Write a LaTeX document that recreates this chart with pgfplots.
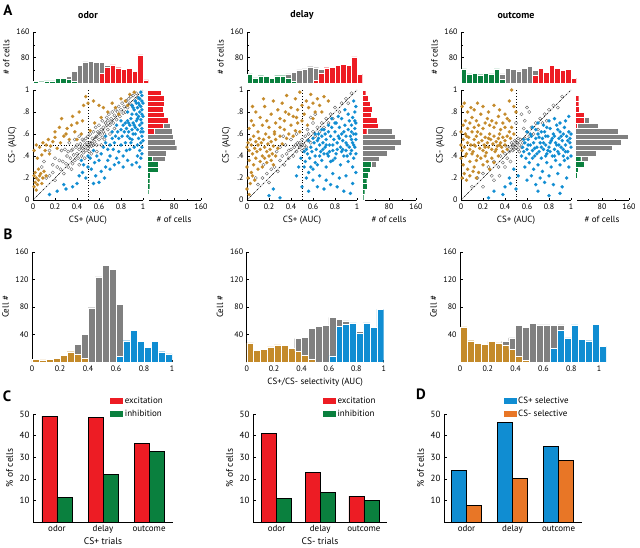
\documentclass[border=0pt]{standalone}
\usepackage{fontspec}
\setmainfont{PT Sans}
\usepackage{pgfplots}
\usepackage{pgfplotstable}
\pgfplotsset{compat=1.18}
\definecolor{cred}{RGB}{237,28,36}
\definecolor{cgreen}{RGB}{10,128,62}
\definecolor{cblue}{RGB}{16,141,210}
\definecolor{cbrown}{RGB}{196,138,42}
\definecolor{corange}{RGB}{232,118,38}
\definecolor{cgrey}{RGB}{128,128,128}

% ---------- panel A marginal histograms ----------
\pgfplotstableread{
x g r k
2.5 5 0 0
7.5 4 0 0
12.5 7 0 0
17.5 7 0 0
22.5 14 0 0
27.5 14 0 0
32.5 12 0 8
37.5 6 0 30
42.5 0 0 55
47.5 0 0 66
52.5 0 0 67
57.5 0 0 64
62.5 0 30 34
67.5 0 50 5
72.5 0 57 0
77.5 0 48 0
82.5 0 42 0
87.5 0 47 0
92.5 0 36 0
97.5 0 88 0
102.5 0 10 0
}\odortop
\pgfplotstableread{
x g r k
2.5 29 0 0
7.5 16 0 0
12.5 23 0 0
17.5 21 0 0
22.5 14 0 0
27.5 23 0 0
32.5 23 0 0
37.5 16 0 13
42.5 5 0 28
47.5 0 0 41
52.5 0 0 44
57.5 0 0 51
62.5 0 8 40
67.5 0 32 10
72.5 0 48 0
77.5 0 50 0
82.5 0 56 0
87.5 0 58 0
92.5 0 56 0
97.5 0 82 0
102.5 0 28 0
}\delaytop
\pgfplotstableread{
x g r k
2.5 44 0 0
7.5 29 0 0
12.5 31 0 0
17.5 26 0 0
22.5 31 0 0
27.5 29 0 0
32.5 44 0 0
37.5 12 0 17
42.5 0 0 46
47.5 0 0 43
52.5 0 0 38
57.5 0 0 46
62.5 0 0 53
67.5 0 25 14
72.5 0 46 0
77.5 0 33 0
82.5 0 56 0
87.5 0 46 0
92.5 0 39 0
97.5 0 43 0
102.5 0 15 0
}\outcometop
\pgfplotstableread{
y g r k
2.5 3 0 0
7.5 5 0 0
12.5 8 0 0
17.5 8 0 0
22.5 10 0 0
27.5 33 0 0
32.5 32 0 0
37.5 15 0 40
42.5 0 0 58
47.5 0 0 88
52.5 0 0 83
57.5 0 0 78
62.5 0 20 55
67.5 0 48 22
72.5 0 62 3
77.5 0 50 0
82.5 0 47 0
87.5 0 50 0
92.5 0 50 0
97.5 0 42 0
}\odorright
\pgfplotstableread{
y g r k
2.5 5 0 0
7.5 8 0 0
12.5 16 0 0
17.5 14 0 0
22.5 19 0 0
27.5 23 0 0
32.5 28 0 14
37.5 0 0 52
42.5 0 0 75
47.5 0 0 99
52.5 0 0 115
57.5 0 0 99
62.5 0 14 76
67.5 0 47 5
72.5 0 45 0
77.5 0 28 0
82.5 0 30 0
87.5 0 25 0
92.5 0 19 0
97.5 0 11 0
}\delayright
\pgfplotstableread{
y g r k
2.5 2 0 0
7.5 2 0 0
12.5 4 0 0
17.5 4 0 0
22.5 7 0 0
27.5 10 0 0
32.5 26 0 0
37.5 17 0 21
42.5 0 0 62
47.5 0 0 110
52.5 0 0 138
57.5 0 0 158
62.5 0 0 127
67.5 0 7 62
72.5 0 26 16
77.5 0 26 0
82.5 0 13 0
87.5 0 11 0
92.5 0 11 0
97.5 0 2 0
}\outcomeright
% ---------- panel B histograms ----------
\pgfplotstableread{
x n b k
0.025 4 0 0
0.075 3 0 0
0.125 4 0 0
0.175 5 0 0
0.225 10 0 0
0.275 15 0 0
0.325 12 0 14
0.375 5 0 35
0.425 0 0 79
0.475 0 0 124
0.525 0 0 141
0.575 0 0 135
0.625 0 8 76
0.675 0 31 0
0.725 0 46 0
0.775 0 30 0
0.825 0 21 0
0.875 0 30 0
0.925 0 15 0
0.975 0 12 0
}\bone
\pgfplotstableread{
x n b k
0.025 28 0 0
0.075 17 0 0
0.125 18 0 0
0.175 22 0 0
0.225 25 0 0
0.275 24 0 0
0.325 20 0 0
0.375 16 0 18
0.425 10 0 26
0.475 4 0 45
0.525 0 0 52
0.575 0 0 53
0.625 0 9 56
0.675 0 52 10
0.725 0 55 5
0.775 0 57 0
0.825 0 42 3
0.875 0 57 0
0.925 0 50 0
0.975 0 77 0
}\btwo
\pgfplotstableread{
x n b k
0.025 51 0 0
0.075 31 0 0
0.125 27 0 0
0.175 26 0 0
0.225 30 0 0
0.275 28 0 0
0.325 25 0 5
0.375 18 0 17
0.425 9 0 44
0.475 2 0 48
0.525 0 0 56
0.575 0 0 54
0.625 0 0 54
0.675 0 20 33
0.725 0 46 8
0.775 0 35 0
0.825 0 54 0
0.875 0 33 0
0.925 0 31 0
0.975 0 55 0
1.025 0 23 0
}\bthree

\tikzset{
  refl/.style={dotted, line width=0.8pt},
  diagl/.style={line width=0.5pt, dash pattern=on 2pt off 1pt on 0.5pt off 1pt},
}
\pgfplotsset{
  base/.style={
    scale only axis, anchor=south west,
    axis lines*=left,
    axis line style={line width=0.6pt,-},
    every tick/.style={black,line width=0.5pt},
    tick align=inside,
    major tick length=2.5bp, minor tick length=1.5bp,
    tick label style={font=\fontsize{8}{9}\selectfont},
    label style={font=\fontsize{9}{10}\selectfont},
    /pgf/number format/assume math mode=true,
  },
  tophist/.style={base, ybar stacked, bar width=5,
    xmin=0, xmax=105, ymin=0, ymax=160, width=115.5bp, height=51bp,
    xtick=\empty, x axis line style={draw=none},
    ytick={80,160}, minor ytick={40,120}, ylabel={\# of cells}},
  righthist/.style={base, xbar stacked, bar width=5,
    xmin=0, xmax=160, ymin=0, ymax=100, width=54bp, height=110bp,
    ytick=\empty, xtick={80,160}, minor xtick={40,120}, xlabel={\# of cells}},
  scat/.style={base, xmin=0, xmax=100, ymin=0, ymax=100, width=110bp, height=110bp,
    xtick={0,20,...,100}, xticklabels={0,0.2,0.4,0.6,0.8,1},
    ytick={0,20,...,100}, yticklabels={0,.2,.4,.6,.8,1},
    xlabel={CS+ (AUC)}, ylabel={CS- (AUC)}, clip=false},
  bhist/.style={base, ybar stacked, bar width=0.05, ymin=0, ymax=160, height=110bp,
    ytick={40,80,120,160}, xtick={0,0.2,0.4,0.6,0.8,1},
    xticklabels={0,0.2,0.4,0.6,0.8,1}, ylabel={Cell \#}},
  cbar/.style={base, ymin=0, ymax=50, height=108bp,
    ytick={10,20,30,40,50}, xtick={0,1,2}, xticklabels={odor,delay,outcome},
    x tick style={draw=none},
    tick label style={font=\fontsize{9}{10}\selectfont},
    label style={font=\fontsize{9.5}{11}\selectfont},
    xlabel style={yshift=3bp},
    ylabel={\% of cells},
    legend style={draw=none, fill=none, inner sep=0pt, row sep=1.5bp,
      font=\fontsize{9}{10}\selectfont, cells={anchor=west}}},
  gbar/.style={fill=cgrey, draw=white, line width=0.3pt},
  brownpt/.style={only marks, mark=*, mark size=1.7pt, mark options={fill=cbrown, draw=cbrown, line width=0.1pt}},
  bluept/.style={only marks, mark=*, mark size=1.7pt, mark options={fill=cblue, draw=cblue, line width=0.1pt}},
  greypt/.style={only marks, mark=o, mark size=1.6pt, mark options={draw=black!60, line width=0.4pt}},
}

\begin{document}
\begin{tikzpicture}
\path[use as bounding box] (0,0) rectangle (640bp,-548bp);

% ================= A: odor =================
\begin{axis}[tophist, at={(33bp,-83bp)}]
\addplot[fill=cgreen, draw=white, line width=0.3pt] table[x=x,y=g]{\odortop};
\addplot[fill=cred, draw=white, line width=0.3pt] table[x=x,y=r]{\odortop};
\addplot[gbar] table[x=x,y=k]{\odortop};
\end{axis}
\begin{axis}[righthist, at={(147bp,-200bp)}]
\addplot[fill=cgreen, draw=white, line width=0.3pt] table[x=g,y=y]{\odorright};
\addplot[fill=cred, draw=white, line width=0.3pt] table[x=r,y=y]{\odorright};
\addplot[gbar] table[x=k,y=y]{\odorright};
\end{axis}
\begin{axis}[scat, at={(33bp,-200bp)}]
\addplot[greypt] coordinates {(15,22) (18,25) (20,18) (22,30) (25,28) (27,35) (28,24) (30,33) (31,40) (32,30) (34,38) (35,45) (36,33) (37,41) (38,36) (39,48) (40,42) (41,38) (42,46) (43,51) (44,40) (45,47) (45,55) (46,43) (47,50) (48,45) (48,56) (49,52) (50,47) (50,58) (51,44) (52,52) (52,60) (53,49) (54,56) (55,62) (55,50) (56,53) (57,66) (58,58) (58,50) (59,62) (60,55) (60,68) (61,60) (62,64) (63,57) (63,72) (64,66) (65,60) (66,70) (67,75) (68,64) (68,72) (69,78) (70,68) (71,74) (72,80) (73,70) (74,77) (75,82) (76,73) (77,80) (78,85) (79,76) (80,82) (81,88) (82,79) (83,85) (84,80) (85,90) (86,84) (87,92) (88,88) (89,94) (90,86) (91,95) (93,90) (94,97) (95,93) (20,38) (26,45) (33,52) (38,55) (42,58) (29,46) (24,36) (18,32) (12,20) (35,28) (42,32) (47,38) (53,42) (58,44) (62,50) (65,55) (70,60) (74,65) (10,35) (15,45) (8,30) (44,48) (46,54) (51,49) (54,51) (57,57) (60,61) (64,62) (67,68) (71,71) (36,46) (40,50) (32,44)};
\addplot[brownpt] coordinates {(1,12) (2,16) (3,20) (1,22) (4,14) (5,18) (2,25) (6,22) (3,9) (8,15) (7,24) (9,20) (5,28) (10,26) (12,22) (1,45) (3,50) (6,48) (9,52) (12,50) (14,55) (16,49) (18,53) (20,57) (8,41) (11,45) (4,38) (15,42) (22,47) (25,52) (28,58) (20,62) (24,66) (26,74) (31,65) (35,68) (30,60) (33,55) (38,62) (40,70) (36,76) (42,80) (45,72) (48,94) (50,88) (46,86) (55,90) (60,86) (64,84) (68,80) (62,75) (72,88) (75,84) (80,92) (84,90) (88,96) (92,98) (86,86) (78,78) (52,63) (56,70) (40,55) (44,60)};
\addplot[bluept] coordinates {(98,98) (99,95) (97,92) (99,90) (96,88) (98,85) (99,82) (95,84) (97,80) (99,78) (96,76) (98,73) (99,70) (94,72) (97,68) (99,65) (95,64) (98,62) (99,58) (96,56) (98,52) (99,48) (97,45) (95,50) (93,60) (92,68) (94,78) (92,82) (90,78) (91,70) (89,74) (90,64) (88,68) (87,62) (86,72) (85,65) (84,70) (88,56) (86,58) (83,62) (82,68) (80,64) (81,58) (84,52) (90,55) (92,48) (95,40) (98,38) (99,42) (88,46) (85,45) (80,50) (78,56) (77,62) (75,58) (74,52) (72,56) (70,50) (73,46) (78,44) (82,40) (86,36) (90,32) (94,34) (97,30) (76,38) (70,40) (68,46) (66,52) (64,48) (62,42) (60,36) (58,40) (56,34) (55,45) (52,38) (50,30) (53,28) (57,22) (62,26) (66,30) (70,28) (74,32) (65,20) (60,16) (55,15) (48,20) (45,25) (42,22) (40,15) (36,12) (30,10) (28,14) (22,8) (15,5) (46,32) (50,40) (44,36) (78,34) (82,30) (68,36) (72,62) (80,72) (86,80) (90,86) (93,90) (96,93) (76,68) (66,58) (100,88) (100,76) (100,62) (100,54) (97,86) (95,74) (93,66) (91,60) (89,52) (87,70) (94,88) (91,84)};
\draw[refl] (axis cs:50,0) -- (axis cs:50,100);
\draw[refl] (axis cs:0,50) -- (axis cs:100,50);
\draw[diagl] (axis cs:0,0) -- (axis cs:100,100);
\end{axis}

% ================= A: delay =================
\begin{axis}[tophist, at={(247bp,-83bp)}]
\addplot[fill=cgreen, draw=white, line width=0.3pt] table[x=x,y=g]{\delaytop};
\addplot[fill=cred, draw=white, line width=0.3pt] table[x=x,y=r]{\delaytop};
\addplot[gbar] table[x=x,y=k]{\delaytop};
\end{axis}
\begin{axis}[righthist, at={(362bp,-200bp)}]
\addplot[fill=cgreen, draw=white, line width=0.3pt] table[x=g,y=y]{\delayright};
\addplot[fill=cred, draw=white, line width=0.3pt] table[x=r,y=y]{\delayright};
\addplot[gbar] table[x=k,y=y]{\delayright};
\end{axis}
\begin{axis}[scat, at={(247bp,-200bp)}]
\addplot[greypt] coordinates {(10,14) (14,20) (18,24) (20,16) (22,28) (25,30) (28,26) (30,36) (32,40) (34,32) (36,42) (38,38) (40,46) (42,40) (44,50) (45,44) (46,52) (48,48) (50,55) (50,45) (52,50) (53,58) (54,48) (55,54) (56,60) (58,52) (60,62) (62,58) (64,66) (66,62) (68,70) (70,66) (72,74) (74,70) (76,78) (78,74) (80,84) (84,80) (86,88) (90,92) (92,88) (95,97) (40,55) (35,50) (30,48) (45,60) (55,64) (60,70) (48,52) (52,46) (47,50) (50,50) (43,48) (38,45) (27,44) (33,58) (58,75) (62,78) (8,20) (15,32)};
\addplot[brownpt] coordinates {(0,48) (1,52) (2,45) (3,55) (4,50) (5,42) (6,58) (7,47) (8,53) (9,44) (10,50) (11,56) (12,46) (13,52) (14,40) (15,55) (16,48) (17,60) (18,44) (19,51) (20,57) (21,46) (22,53) (23,42) (24,49) (25,62) (26,55) (28,47) (30,58) (32,51) (34,64) (36,56) (38,60) (40,68) (42,58) (44,63) (46,70) (48,62) (0,30) (2,36) (4,25) (6,32) (8,38) (10,28) (12,35) (14,30) (16,38) (18,34) (20,40) (1,20) (3,15) (5,22) (0,10) (2,5) (7,18) (22,36) (24,32) (26,40) (2,65) (4,72) (6,68) (8,80) (10,62) (12,75) (14,68) (16,85) (18,72) (20,66) (22,78) (24,90) (26,70) (28,82) (30,74) (32,88) (34,72) (36,95) (38,78) (40,84) (42,76) (44,92) (46,82) (48,98) (50,86) (52,78) (54,90) (56,84) (58,96) (60,88) (62,80) (64,92) (30,66) (35,80) (45,75) (15,92) (5,85) (25,60) (50,72) (55,68) (60,74) (66,86) (70,94) (74,90) (68,80)};
\addplot[bluept] coordinates {(98,80) (99,85) (97,90) (96,75) (99,70) (98,65) (95,68) (97,60) (99,55) (96,52) (98,48) (99,42) (95,45) (97,38) (94,58) (93,72) (92,64) (91,50) (90,58) (89,68) (88,62) (87,54) (86,74) (85,48) (84,66) (83,58) (82,52) (81,70) (80,62) (79,55) (78,45) (77,66) (76,58) (75,50) (74,62) (73,42) (72,55) (71,48) (70,64) (69,52) (68,58) (67,44) (66,50) (65,60) (64,54) (63,46) (62,40) (61,52) (60,56) (59,44) (58,48) (57,38) (56,54) (55,42) (54,46) (53,35) (52,44) (88,40) (92,35) (96,30) (99,25) (85,32) (80,38) (76,35) (72,30) (68,36) (64,32) (60,28) (56,25) (52,30) (90,45) (94,42) (86,44) (82,46) (78,36) (74,40) (70,42) (66,40) (62,34) (58,30) (54,20) (60,18) (66,22) (72,18) (78,24) (84,20) (90,22) (96,15) (50,12) (56,8) (64,12) (70,10) (76,14) (82,12) (88,8) (94,6) (49,38) (47,30) (45,22) (30,2) (24,10) (20,4) (98,72) (95,62) (92,78) (89,82) (86,60) (83,76) (80,70) (77,74) (74,68) (71,60) (68,64) (65,56) (62,60) (99,60) (97,50) (93,48) (90,52) (87,46) (84,56) (81,42) (78,50) (75,44) (72,50) (69,46) (91,40) (95,55)};
\draw[refl] (axis cs:50,0) -- (axis cs:50,100);
\draw[refl] (axis cs:0,50) -- (axis cs:50,50);
\draw[diagl] (axis cs:0,0) -- (axis cs:100,100);
\end{axis}

% ================= A: outcome =================
\begin{axis}[tophist, at={(461bp,-83bp)}]
\addplot[fill=cgreen, draw=white, line width=0.3pt] table[x=x,y=g]{\outcometop};
\addplot[fill=cred, draw=white, line width=0.3pt] table[x=x,y=r]{\outcometop};
\addplot[gbar] table[x=x,y=k]{\outcometop};
\end{axis}
\begin{axis}[righthist, at={(575bp,-200bp)}]
\addplot[fill=cgreen, draw=white, line width=0.3pt] table[x=g,y=y]{\outcomeright};
\addplot[fill=cred, draw=white, line width=0.3pt] table[x=r,y=y]{\outcomeright};
\addplot[gbar] table[x=k,y=y]{\outcomeright};
\end{axis}
\begin{axis}[scat, at={(461bp,-200bp)}]
\addplot[greypt] coordinates {(45,48) (46,52) (47,45) (48,50) (49,54) (50,48) (51,52) (52,46) (53,50) (54,55) (55,48) (48,46) (50,53) (52,56) (47,50) (53,44) (56,52) (44,44) (42,48) (58,56) (10,12) (15,20) (20,24) (25,30) (28,22) (30,35) (34,30) (36,40) (38,34) (40,42) (42,38) (60,62) (62,58) (64,66) (66,60) (68,70) (70,64) (72,74) (74,70) (76,78) (78,72) (80,82) (84,86) (88,84) (92,94) (58,72) (62,80) (55,78) (60,84) (50,70) (57,65) (40,30) (45,35) (35,22) (30,18) (20,12)};
\addplot[brownpt] coordinates {(0,50) (1,45) (2,55) (3,48) (4,60) (5,42) (6,52) (7,57) (8,46) (9,50) (10,62) (11,44) (12,55) (13,49) (14,58) (15,40) (16,52) (17,47) (18,60) (19,54) (20,45) (21,50) (22,57) (23,43) (24,52) (25,48) (26,60) (27,55) (28,46) (29,51) (30,58) (31,44) (32,53) (33,49) (34,56) (35,60) (36,52) (37,48) (38,57) (40,54) (42,58) (44,62) (0,62) (2,68) (4,72) (6,65) (8,70) (10,75) (12,66) (14,72) (16,68) (18,78) (20,65) (22,70) (24,74) (26,68) (28,72) (30,66) (32,70) (34,76) (36,64) (38,70) (40,66) (42,74) (1,85) (3,88) (6,80) (9,84) (12,82) (15,88) (20,85) (25,80) (30,86) (35,82) (40,78) (44,90) (46,100) (48,85) (50,80) (0,38) (2,32) (4,40) (6,28) (8,35) (10,42) (12,30) (14,36) (16,25) (18,38) (20,32) (22,40) (24,35) (26,28) (28,38) (30,34) (1,20) (3,24) (5,18) (8,22) (11,26) (14,20) (34,40) (38,44) (42,46) (5,58) (15,62) (25,56) (35,50) (45,56) (46,66) (48,60) (44,72) (12,50) (22,48) (32,46) (40,50)};
\addplot[bluept] coordinates {(55,40) (56,48) (57,44) (58,52) (59,38) (60,46) (61,55) (62,42) (63,50) (64,58) (65,45) (66,52) (67,40) (68,56) (69,48) (70,60) (71,44) (72,52) (73,38) (74,56) (75,46) (76,62) (77,50) (78,42) (79,58) (80,48) (81,65) (82,54) (83,40) (84,60) (85,46) (86,52) (87,68) (88,44) (89,56) (90,62) (91,48) (92,54) (93,40) (94,66) (95,50) (96,58) (97,44) (98,62) (99,52) (100,48) (60,62) (65,66) (70,70) (75,68) (80,72) (85,74) (90,70) (95,72) (98,76) (88,64) (78,66) (68,64) (58,30) (62,34) (66,28) (70,32) (74,26) (78,34) (82,30) (86,36) (90,32) (94,36) (98,30) (64,22) (72,20) (80,22) (88,24) (96,20) (60,18) (68,14) (76,16) (84,14) (92,12) (70,8) (80,4) (90,6) (57,55) (63,60) (67,47) (71,57) (75,52) (79,45) (83,56) (87,50) (91,58) (95,44) (99,56) (73,48) (77,58) (81,44) (85,58) (89,42) (93,60) (97,54) (61,50) (65,38) (69,42) (73,62) (77,40) (81,52) (85,40) (89,50) (93,46) (97,38) (100,60) (100,40) (50,10) (45,15) (40,12) (52,22) (48,28) (44,20) (38,5) (30,8) (25,2)};
\draw[refl] (axis cs:50,0) -- (axis cs:50,100);
\draw[refl] (axis cs:0,50) -- (axis cs:50,50);
\draw[diagl] (axis cs:0,0) -- (axis cs:100,100);
\end{axis}

% ================= B =================
\begin{axis}[bhist, at={(32bp,-362bp)}, width=140bp, xmin=0, xmax=1]
\addplot[fill=cbrown, draw=white, line width=0.3pt] table[x=x,y=n]{\bone};
\addplot[fill=cblue, draw=white, line width=0.3pt] table[x=x,y=b]{\bone};
\addplot[gbar] table[x=x,y=k]{\bone};
\end{axis}
\begin{axis}[bhist, at={(246.7bp,-362bp)}, width=137bp, xmin=0, xmax=1, xlabel={CS+/CS- selectivity (AUC)}]
\addplot[fill=cbrown, draw=white, line width=0.3pt] table[x=x,y=n]{\btwo};
\addplot[fill=cblue, draw=white, line width=0.3pt] table[x=x,y=b]{\btwo};
\addplot[gbar] table[x=x,y=k]{\btwo};
\end{axis}
\begin{axis}[bhist, at={(460bp,-362bp)}, width=146bp, xmin=0, xmax=1.05]
\addplot[fill=cbrown, draw=white, line width=0.3pt] table[x=x,y=n]{\bthree};
\addplot[fill=cblue, draw=white, line width=0.3pt] table[x=x,y=b]{\bthree};
\addplot[gbar] table[x=x,y=k]{\bthree};
\end{axis}

% ================= C =================
\begin{axis}[cbar, at={(33bp,-522bp)}, width=140bp, xmin=-0.52, xmax=2.52, xlabel={CS+ trials},
  legend style={at={(0.55,1.18)}, anchor=north west}]
\addplot[ybar, bar width=15bp, bar shift=-7.5bp, fill=cred, draw=black, line width=0.7pt,
  legend image code/.code={\fill[cred] (0bp,-2.6bp) rectangle (12bp,2.6bp);}] coordinates {(0,49) (1,48.5) (2,36.5)};
\addlegendentry{excitation}
\addplot[ybar, bar width=15bp, bar shift=7.5bp, fill=cgreen, draw=black, line width=0.7pt,
  legend image code/.code={\fill[cgreen] (0bp,-2.6bp) rectangle (12bp,2.6bp);}] coordinates {(0,11.5) (1,22) (2,32.5)};
\addlegendentry{inhibition}
\end{axis}
\begin{axis}[cbar, at={(253bp,-522bp)}, width=134bp, xmin=-0.54, xmax=2.53, xlabel={CS- trials},
  legend style={at={(0.52,1.18)}, anchor=north west}]
\addplot[ybar, bar width=15bp, bar shift=-7.5bp, fill=cred, draw=black, line width=0.7pt,
  legend image code/.code={\fill[cred] (0bp,-2.6bp) rectangle (12bp,2.6bp);}] coordinates {(0,41) (1,23) (2,12)};
\addlegendentry{excitation}
\addplot[ybar, bar width=15bp, bar shift=7.5bp, fill=cgreen, draw=black, line width=0.7pt,
  legend image code/.code={\fill[cgreen] (0bp,-2.6bp) rectangle (12bp,2.6bp);}] coordinates {(0,11) (1,13.5) (2,10)};
\addlegendentry{inhibition}
\end{axis}

% ================= D =================
\begin{axis}[cbar, at={(444bp,-522bp)}, width=138bp, xmin=-0.49, xmax=2.51,
  legend style={at={(0.43,1.18)}, anchor=north west}]
\addplot[ybar, bar width=14.5bp, bar shift=-7.5bp, fill=cblue, draw=black, line width=0.7pt,
  legend image code/.code={\fill[cblue] (0bp,-2.6bp) rectangle (12bp,2.6bp);}] coordinates {(0,24) (1,46) (2,35)};
\addlegendentry{CS+ selective}
\addplot[ybar, bar width=14.5bp, bar shift=7.5bp, fill=corange, draw=black, line width=0.7pt,
  legend image code/.code={\fill[corange] (0bp,-2.6bp) rectangle (12bp,2.6bp);}] coordinates {(0,7.5) (1,20) (2,28.5)};
\addlegendentry{CS- selective}
\end{axis}

% ================= titles and panel letters =================
\node[font=\bfseries\fontsize{10}{12}\selectfont] at (88bp,-15bp) {odor};
\node[font=\bfseries\fontsize{10}{12}\selectfont] at (302bp,-15bp) {delay};
\node[font=\bfseries\fontsize{10}{12}\selectfont] at (516bp,-15bp) {outcome};
\node[font=\bfseries\fontsize{15}{15}\selectfont] at (8bp,-10bp) {A};
\node[font=\bfseries\fontsize{15}{15}\selectfont] at (8bp,-234bp) {B};
\node[font=\bfseries\fontsize{15}{15}\selectfont] at (7bp,-396bp) {C};
\node[font=\bfseries\fontsize{15}{15}\selectfont] at (421bp,-394bp) {D};
\end{tikzpicture}
\end{document}
